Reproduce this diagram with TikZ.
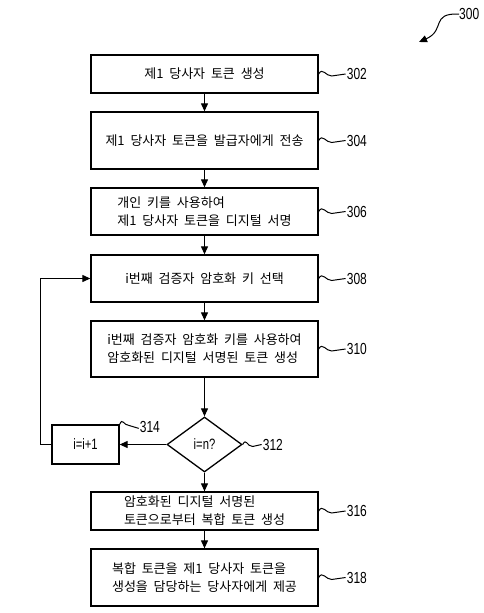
\documentclass[tikz,border=0pt]{standalone}
\usepackage{fontspec}
\setmainfont{Liberation Sans}
\newfontfamily\kr[WordSpace=2]{Noto Sans CJK KR}
\newfontfamily\numf[FakeStretch=0.75]{Liberation Sans}
\usetikzlibrary{shapes.geometric,arrows.meta}
\tikzset{
  box/.style={draw, line width=1.3pt, minimum width=227pt, inner sep=0pt, align=left,
    font=\kr\fontsize{13}{18}\selectfont},
  dia/.style={draw, shape=diamond, line width=1.3pt, minimum width=75pt, minimum height=55pt,
    inner sep=0pt, font=\numf\fontsize{15}{17}\selectfont},
  smallbox/.style={draw, line width=1.3pt, minimum width=67pt, minimum height=39pt, inner sep=0pt,
    font=\numf\fontsize{15}{17}\selectfont},
  arr/.style={line width=1.1pt, -{Triangle[length=8pt,width=7pt]}},
  lead/.style={line width=1pt},
  ref/.style={anchor=west, inner sep=0pt, font=\numf\fontsize{16}{18}\selectfont}
}
\begin{document}
\begin{tikzpicture}[x=1pt,y=-1pt]
\useasboundingbox (0,0) rectangle (484,613);
\node[box, minimum height=38pt] (b302) at (204.5,74) {제1 당사자 토큰 생성};
\node[box, minimum height=57pt] (b304) at (204.5,140.5) {제1 당사자 토큰을 발급자에게 전송};
\node[box, minimum height=47pt] (b306) at (204.5,211.5) {개인 키를 사용하여\\제1 당사자 토큰을 디지털 서명};
\node[box, minimum height=47pt] (b308) at (204.5,278.5) {i번째 검증자 암호화 키 선택};
\node[box, minimum height=56pt] (b310) at (204.5,349) {i번째 검증자 암호화 키를 사용하여\\암호화된 디지털 서명된 토큰 생성};
\node[dia] (d312) at (204.5,444.5) {i=n?};
\node[smallbox] (b314) at (85.5,444.5) {i=i+1};
\node[box, minimum height=38pt] (b316) at (204.5,511) {암호화된 디지털 서명된\\토큰으로부터 복합 토큰 생성};
\node[box, minimum height=57pt] (b318) at (204.5,577.5) {복합 토큰을 제1 당사자 토큰을\\생성을 담당하는 당사자에게 제공};

\draw[arr] (b302) -- (b304);
\draw[arr] (b304) -- (b306);
\draw[arr] (b306) -- (b308);
\draw[arr] (b308) -- (b310);
\draw[arr] (b310) -- (d312);
\draw[arr] (d312) -- (b316);
\draw[arr] (b316) -- (b318);
\draw[arr] (d312.west) -- (b314.east);
\draw[arr] (b314.west) -- ++(-11,0) |- (b308.west);

% reference numerals
\foreach \n in {302,304,306,308,310,316,318}{
  \draw[lead] (b\n.east) .. controls +(4,-7) and +(-6,0) .. ++(13,2) -- ++(14,-2) coordinate (e\n);
  \node[ref] (l\n) at ([xshift=1pt]e\n) {\n};
}
\draw[lead] (d312.east) .. controls +(4,-7) and +(-6,0) .. ++(10,2) -- ++(9,-2) coordinate (e312);
\node[ref] (l312) at ([xshift=1pt]e312) {312};
\draw[lead] (b314.north east) .. controls +(3,-7) and +(-5,0) .. ++(9,1) -- ++(10,3) coordinate (e314);
\node[ref] (l314) at ([xshift=1pt,yshift=1pt]e314) {314};

\node[ref] (l300) at (459,14) {300};
\draw[lead, -{Triangle[length=8pt,width=7pt]}] (l300.west) .. controls (430,13) and (446,30) .. (419,42);
\end{tikzpicture}
\end{document}
